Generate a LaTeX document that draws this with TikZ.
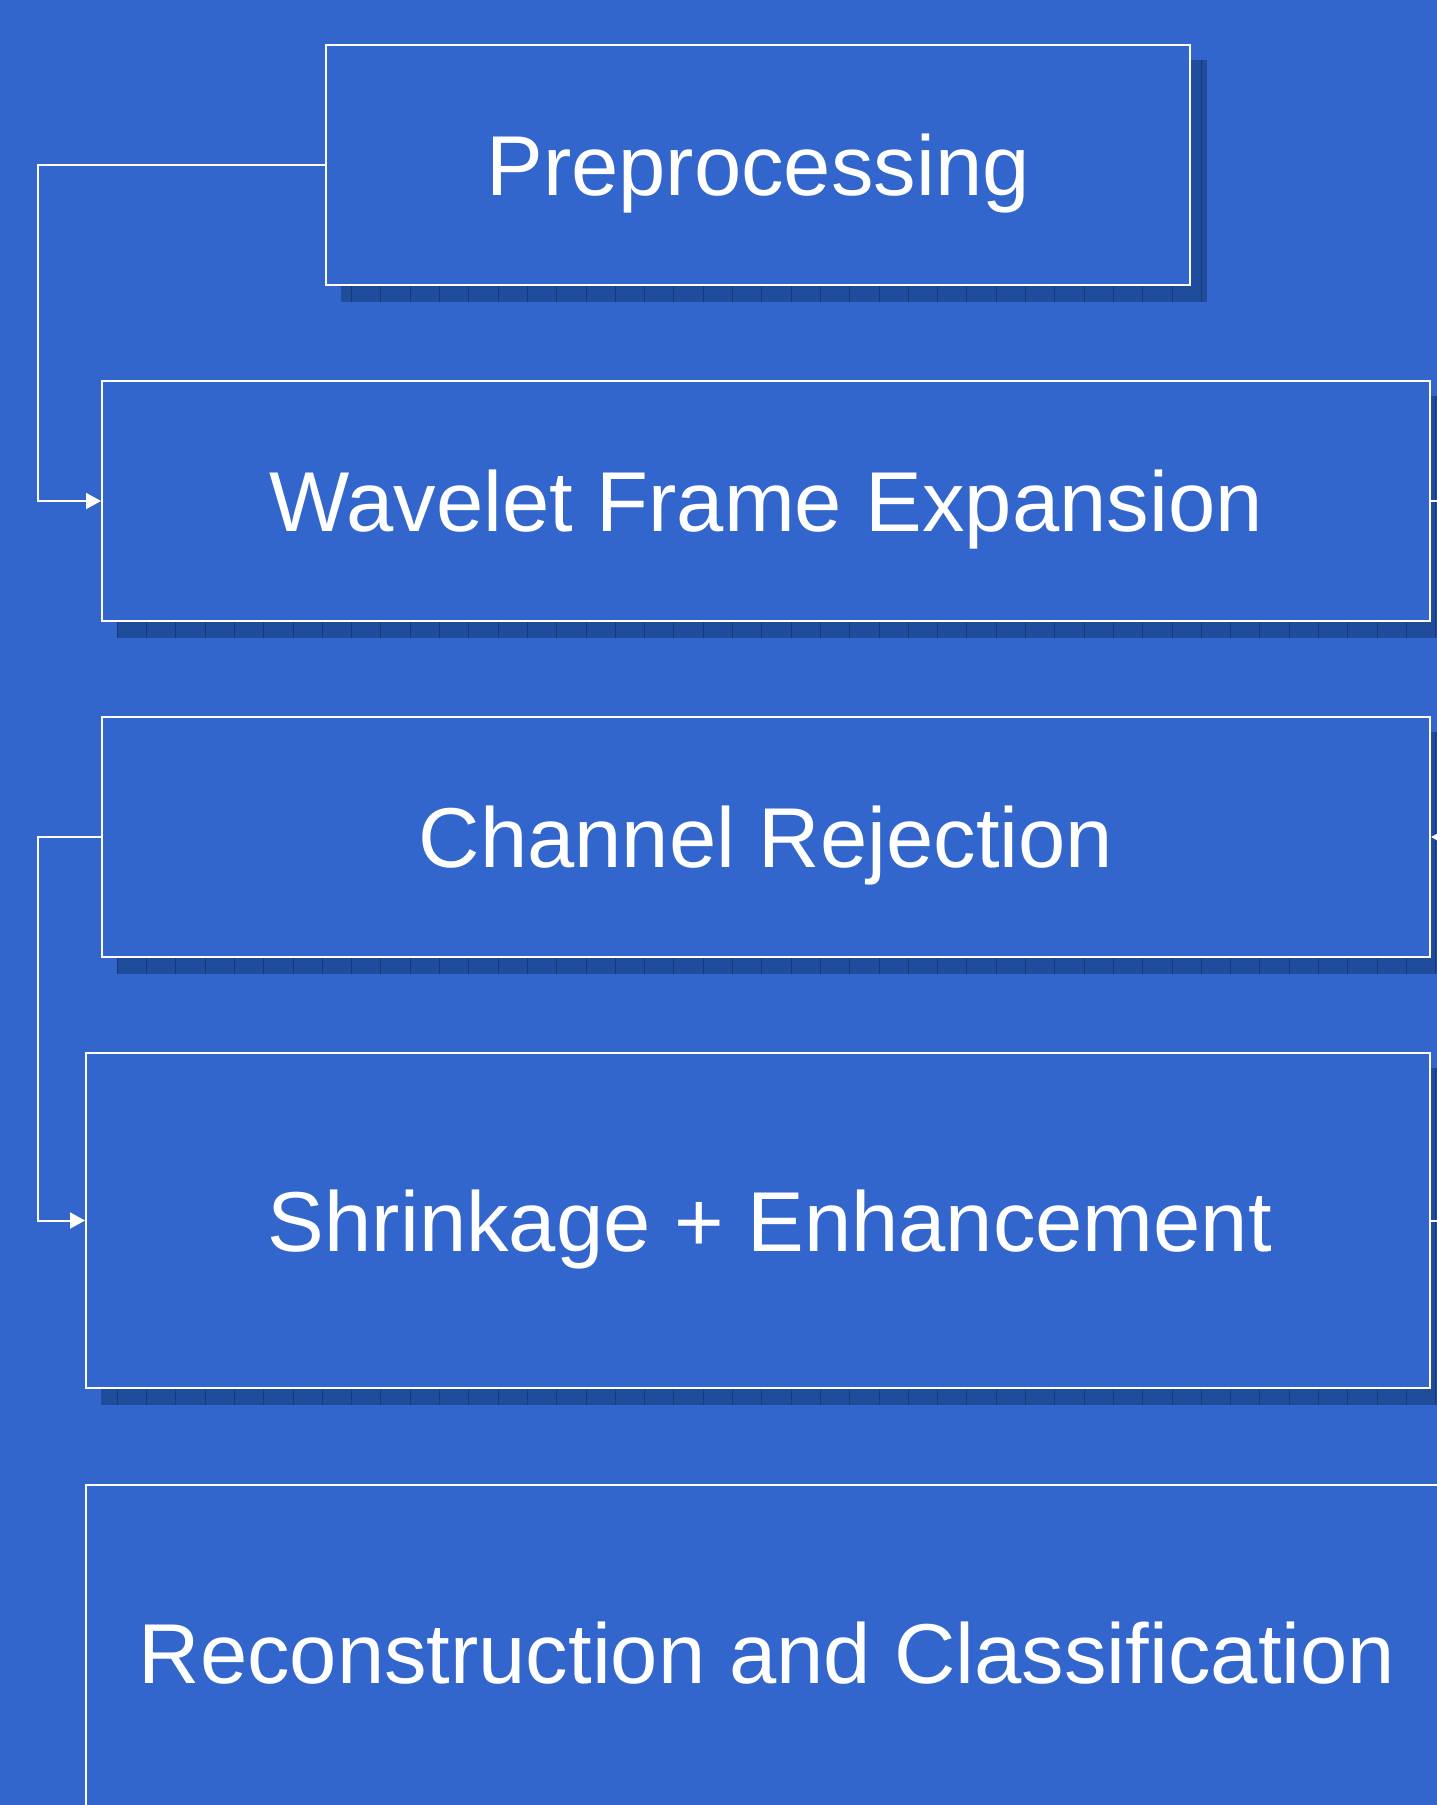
\documentclass[tikz,border=0pt]{standalone}
\usepackage{fontspec}
\setmainfont{Liberation Sans}
\usetikzlibrary{arrows.meta,calc}
\definecolor{bg}{RGB}{51,102,204}
\definecolor{shadowc}{RGB}{31,77,155}
\definecolor{shadowline}{RGB}{22,58,122}
\pgfdeclarelayer{bgl}
\pgfdeclarelayer{shl}
\pgfsetlayers{bgl,shl,main}
\newcommand{\myshadow}[1]{%
  \begin{scope}
    \clip ($(#1.north west)+(16,16)$) rectangle ($(#1.south east)+(16,16)$);
    \fill[shadowc] ($(#1.north west)+(16,16)$) rectangle ($(#1.south east)+(16,16)$);
    \draw[shadowline, line width=1pt, step=29.3] ($(#1.north west)+(16,16)$) grid ($(#1.south east)+(16,16)$);
  \end{scope}}
\begin{document}
\begin{tikzpicture}[x=1pt,y=-1pt,
  box/.style={draw=white, line width=2pt, fill=bg, inner sep=0pt,
    font=\fontsize{85}{100}\selectfont, text=white, text height=61pt, text depth=0pt},
  conn/.style={draw=white, line width=2pt},
  arr/.style={-{Triangle[length=15pt,width=16pt]}}]
\useasboundingbox (0,0) rectangle (1437,1805);
\begin{pgfonlayer}{bgl}
  \fill[bg] (0,0) rectangle (1437,1805);
\end{pgfonlayer}
\clip (0,0) rectangle (1437,1805);

\node[box, minimum width=864pt, minimum height=240pt] (pre) at (758,165) {Preprocessing};
\node[box, minimum width=1328pt, minimum height=240pt] (wav) at (766,501) {Wavelet Frame Expansion};
\node[box, minimum width=1328pt, minimum height=240pt] (cha) at (766,837) {Channel Rejection};
\node[box, minimum width=1344pt, minimum height=335pt] (shr) at (758,1220.5) {\hspace*{24pt}Shrinkage + Enhancement};
\node[box, minimum width=1362pt, minimum height=336pt] (rec) at (767,1653) {Reconstruction and Classification};

\begin{pgfonlayer}{shl}
  \myshadow{pre}
  \myshadow{wav}
  \myshadow{cha}
  \myshadow{shr}
  \myshadow{rec}
\end{pgfonlayer}

\coordinate (lft) at (38,0);
\coordinate (rgt) at (1475,0);

\draw[conn,arr] (pre.west) -- (pre.west -| lft) |- (wav.west);
\draw[conn,arr] (wav.east) -- (wav.east -| rgt) |- (cha.east);
\draw[conn,arr] (cha.west) -- (cha.west -| lft) |- (shr.west);
\draw[conn,arr] (shr.east) -- (shr.east -| rgt) |- (rec.east);
\end{tikzpicture}
\end{document}
